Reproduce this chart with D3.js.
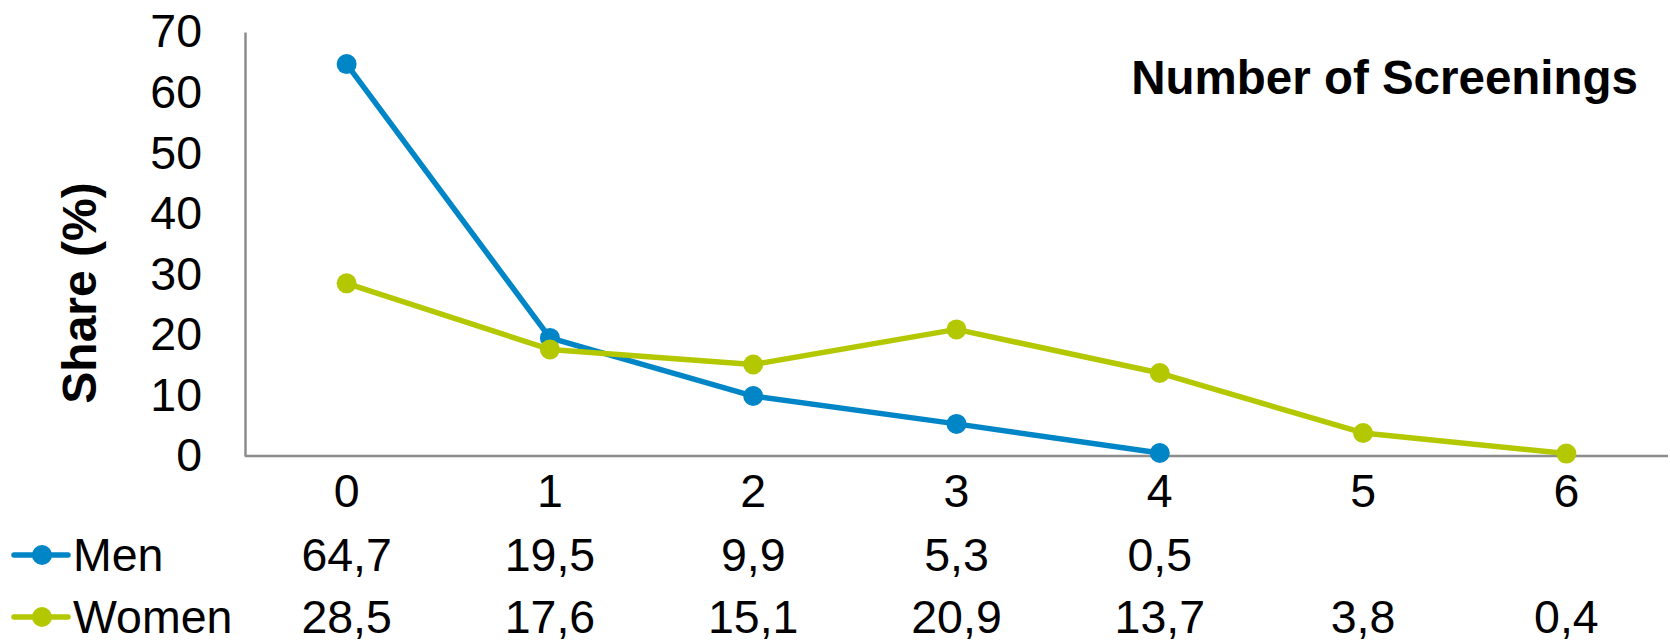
<!DOCTYPE html>
<html>
<head>
<meta charset="utf-8">
<script src="https://cdn.jsdelivr.net/npm/d3@7"></script>
<style>
  html, body { margin: 0; padding: 0; background: #fff; }
  svg { display: block; font-family: "Liberation Sans", Arial, sans-serif; }
</style>
</head>
<body>
<svg id="chart" width="1670" height="643"></svg>
<script>
// Number of screenings (categories) and share per group, in %
const categories = ["0", "1", "2", "3", "4", "5", "6"];
const menValues = [64.7, 19.5, 9.9, 5.3, 0.5];
const womenValues = [28.5, 17.6, 15.1, 20.9, 13.7, 3.8, 0.4];
const yTicks = [0, 10, 20, 30, 40, 50, 60, 70];
const seriesNames = ["Men", "Women"];
const seriesColors = ["#0085C7", "#B3C800"];

const series = [
  { name: seriesNames[0], color: seriesColors[0], values: menValues },
  { name: seriesNames[1], color: seriesColors[1], values: womenValues }
];

const svg = d3.select("#chart");
const plot = { left: 245, right: 1668, top: 32, bottom: 456 };
const fontSize = 46.5;
const strokeW = 5.5;
const markerR = 10;

const x = d3.scaleBand().domain(categories).range([plot.left, plot.right]);
const y = d3.scaleLinear().domain([0, 70]).range([plot.bottom, plot.top]);
const cx = c => x(c) + x.bandwidth() / 2;

// Y axis: vertical line plus tick labels, no tick marks
const yAxis = svg.append("g")
  .attr("transform", `translate(${plot.left},0)`)
  .call(d3.axisLeft(y).tickValues(yTicks).tickSize(0).tickPadding(43).tickFormat(d3.format("d")));
yAxis.select(".domain").attr("stroke", "#8c8c8c").attr("stroke-width", 2.5);
yAxis.selectAll("text")
  .attr("font-size", fontSize)
  .attr("font-family", "Liberation Sans, Arial, sans-serif")
  .attr("fill", "#000");

// X axis line along zero
svg.append("line")
  .attr("x1", plot.left).attr("x2", plot.right)
  .attr("y1", y(0)).attr("y2", y(0))
  .attr("stroke", "#8c8c8c").attr("stroke-width", 2.5);

// Category labels under the axis
svg.append("g").selectAll("text")
  .data(categories).join("text")
  .attr("x", d => cx(d))
  .attr("y", 507)
  .attr("text-anchor", "middle")
  .attr("font-size", fontSize)
  .text(d => d);

// Axis title
svg.append("text")
  .attr("transform", "translate(96,293) rotate(-90)")
  .attr("text-anchor", "middle")
  .attr("font-size", 48)
  .attr("font-weight", "bold")
  .text("Share (%)");

// Chart title, top right
svg.append("text")
  .attr("x", 1638).attr("y", 94)
  .attr("text-anchor", "end")
  .attr("font-size", 47.5)
  .attr("font-weight", "bold")
  .text("Number of Screenings");

// Lines and markers
const line = d3.line()
  .x((d, i) => cx(categories[i]))
  .y(d => y(d));

series.forEach(s => {
  const g = svg.append("g");
  g.append("path")
    .datum(s.values)
    .attr("d", line)
    .attr("fill", "none")
    .attr("stroke", s.color)
    .attr("stroke-width", strokeW)
    .attr("stroke-linejoin", "round");
  g.selectAll("circle")
    .data(s.values).join("circle")
    .attr("cx", (d, i) => cx(categories[i]))
    .attr("cy", d => y(d))
    .attr("r", markerR)
    .attr("fill", s.color);
});

// Data table with legend keys
const rowBaselines = [571, 633];
series.forEach((s, k) => {
  const yb = rowBaselines[k];
  const ym = yb - 16;
  const key = svg.append("g");
  key.append("line")
    .attr("x1", 14).attr("x2", 68)
    .attr("y1", ym).attr("y2", ym)
    .attr("stroke", s.color).attr("stroke-width", strokeW)
    .attr("stroke-linecap", "round");
  key.append("circle")
    .attr("cx", 42).attr("cy", ym).attr("r", markerR)
    .attr("fill", s.color);
  key.append("text")
    .attr("x", 73).attr("y", yb)
    .attr("font-size", fontSize)
    .text(s.name);
  svg.append("g").selectAll("text")
    .data(s.values).join("text")
    .attr("x", (d, i) => cx(categories[i]))
    .attr("y", yb)
    .attr("text-anchor", "middle")
    .attr("font-size", fontSize)
    .text(d => d3.format(".1f")(d).replace(".", ","));
});
</script>
</body>
</html>
